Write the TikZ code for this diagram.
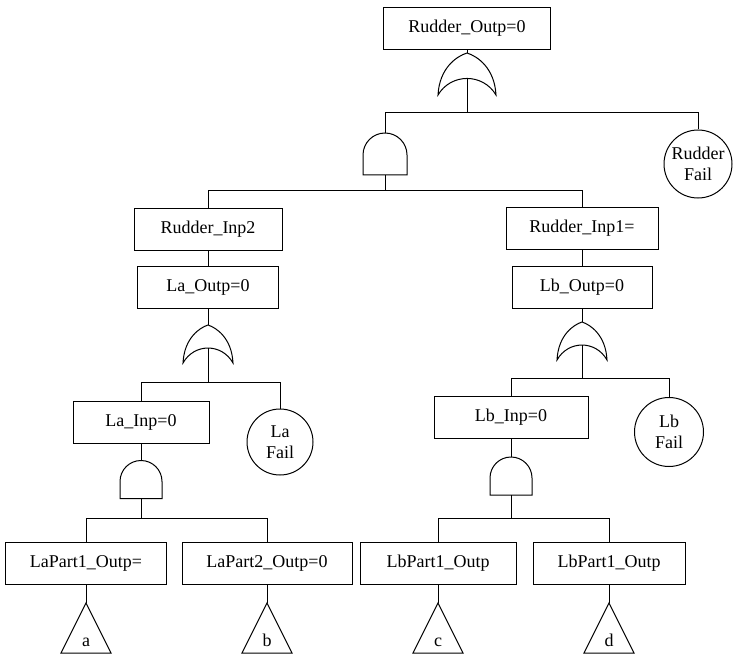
\documentclass[tikz,border=0pt]{standalone}
\usepackage{fontspec}
\setmainfont{Liberation Serif}
\usepackage{tikz}

\begin{document}
\begin{tikzpicture}[x=1pt, y=1pt, line width=1pt,
    evt/.style={draw, rectangle, minimum height=42pt, inner sep=0pt, font=\fontsize{18}{21}\selectfont},
    basic/.style={draw, circle, inner sep=0pt, align=center, font=\fontsize{18}{21}\selectfont},
    gate/.style={inner sep=0pt, outer sep=0pt},
    xfer/.style={inner sep=0pt, text height=12pt, text depth=0pt, font=\fontsize{18}{21}\selectfont}]
    \useasboundingbox (0,0) rectangle (733,-655);

    % Nodes
    \node[evt, minimum width=167pt] (rout) at (467,-28.5) {Rudder\_Outp=0};
    \node[gate, below of=rout, node distance=45.5pt, minimum width=58pt, minimum height=42pt] (g1) {};
    \node[gate, below of=g1, node distance=80pt, xshift=-82pt, minimum width=44pt, minimum height=42pt] (g2) {};
    \node[basic, right of=g2, node distance=313pt, yshift=-10pt, minimum size=68pt] (rf) {Rudder\\Fail};
    \node[evt, below of=g2, node distance=75pt, xshift=-177pt, minimum width=148pt] (rin2) {Rudder\_Inp2};
    \node[evt, right of=rin2, node distance=374pt, yshift=1pt, minimum width=152pt] (rin1) {Rudder\_Inp1=};
    \node[evt, below of=rin2, node distance=58pt, minimum width=141pt] (laout) {La\_Outp=0};
    \node[evt, below of=rin1, node distance=59pt, minimum width=140pt] (lbout) {Lb\_Outp=0};
    \node[gate, below of=laout, node distance=57pt, minimum width=50pt, minimum height=38pt] (g3) {};
    \node[gate, below of=lbout, node distance=54pt, minimum width=50pt, minimum height=38pt] (g4) {};
    \node[evt, below of=g3, node distance=78.5pt, xshift=-67pt, minimum width=136pt] (lainp) {La\_Inp=0};
    \node[basic, right of=lainp, node distance=139pt, yshift=-19.5pt, minimum size=66pt] (lafail) {La\\Fail};
    \node[evt, below of=g4, node distance=76pt, xshift=-71pt, minimum width=154pt] (lbinp) {Lb\_Inp=0};
    \node[basic, right of=lbinp, node distance=158pt, yshift=-15pt, minimum size=69pt] (lbfail) {Lb\\Fail};
    \node[gate, below of=lainp, node distance=57pt, minimum width=42pt, minimum height=38pt] (g5) {};
    \node[gate, below of=lbinp, node distance=59pt, minimum width=42pt, minimum height=38pt] (g6) {};
    \node[evt, below of=g5, node distance=83.5pt, xshift=-55pt, minimum width=161pt] (lap1) {LaPart1\_Outp=};
    \node[evt, right of=lap1, node distance=181pt, minimum width=170pt] (lap2) {LaPart2\_Outp=0};
    \node[evt, right of=lap2, node distance=171pt, minimum width=156pt] (lbp1) {LbPart1\_Outp};
    \node[evt, right of=lbp1, node distance=171pt, minimum width=152pt] (lbp2) {LbPart1\_Outp};
    \node[xfer, below of=lap1, node distance=77pt] (ta) {a};
    \node[xfer, below of=lap2, node distance=77pt] (tb) {b};
    \node[xfer, below of=lbp1, node distance=77pt] (tc) {c};
    \node[xfer, below of=lbp2, node distance=77pt] (td) {d};

    % Gates
    \foreach \g/\w/\h in {g1/29/21, g3/25/19, g4/25/19}
        \draw[shift={(\g.center)}] (-\w,-\h) .. controls ({-0.95*\w},{0.3*\h}) and ({-0.35*\w},{0.85*\h}) .. (0,\h)
            .. controls ({0.35*\w},{0.85*\h}) and ({0.95*\w},{0.3*\h}) .. (\w,-\h)
            .. controls ({0.55*\w},{0.05*\h}) and ({-0.55*\w},{0.05*\h}) .. (-\w,-\h) -- cycle;
    \foreach \g/\w/\h in {g2/22/21, g5/21/19, g6/21/19}
        \draw[shift={(\g.center)}] (-\w,-\h) -- (-\w,{\h-\w}) arc (180:0:\w) -- (\w,-\h) -- cycle;
    \foreach \t in {ta,tb,tc,td}
        \draw[shift={(\t.center)}] (0,37) -- (-25,-13) -- (25,-13) -- cycle;

    % Arrows
    \draw (rout) -- (g1);
    \draw ([yshift=-4pt]g1.center) -- ++(0,-35) -| (g2);
    \draw ([yshift=-4pt]g1.center) -- ++(0,-35) -| (rf);
    \draw (g2.south) -- ++(0,-16) -| (rin2);
    \draw (g2.south) -- ++(0,-16) -| (rin1);
    \draw (rin2) -- (laout);
    \draw (rin1) -- (lbout);
    \draw (laout) -- (g3);
    \draw (lbout) -- (g4);
    \draw ([yshift=-4pt]g3.center) -- ++(0,-34) -| (lainp);
    \draw ([yshift=-4pt]g3.center) -- ++(0,-34) -| (lafail);
    \draw ([yshift=-4pt]g4.center) -- ++(0,-33) -| (lbinp);
    \draw ([yshift=-4pt]g4.center) -- ++(0,-33) -| (lbfail);
    \draw (lainp) -- (g5);
    \draw (lbinp) -- (g6);
    \draw (g5.south) -- ++(0,-19.5) -| (lap1);
    \draw (g5.south) -- ++(0,-19.5) -| (lap2);
    \draw (g6.south) -- ++(0,-23) -| (lbp1);
    \draw (g6.south) -- ++(0,-23) -| (lbp2);
    \draw (lap1) -- ([yshift=37pt]ta.center);
    \draw (lap2) -- ([yshift=37pt]tb.center);
    \draw (lbp1) -- ([yshift=37pt]tc.center);
    \draw (lbp2) -- ([yshift=37pt]td.center);
\end{tikzpicture}
\end{document}
